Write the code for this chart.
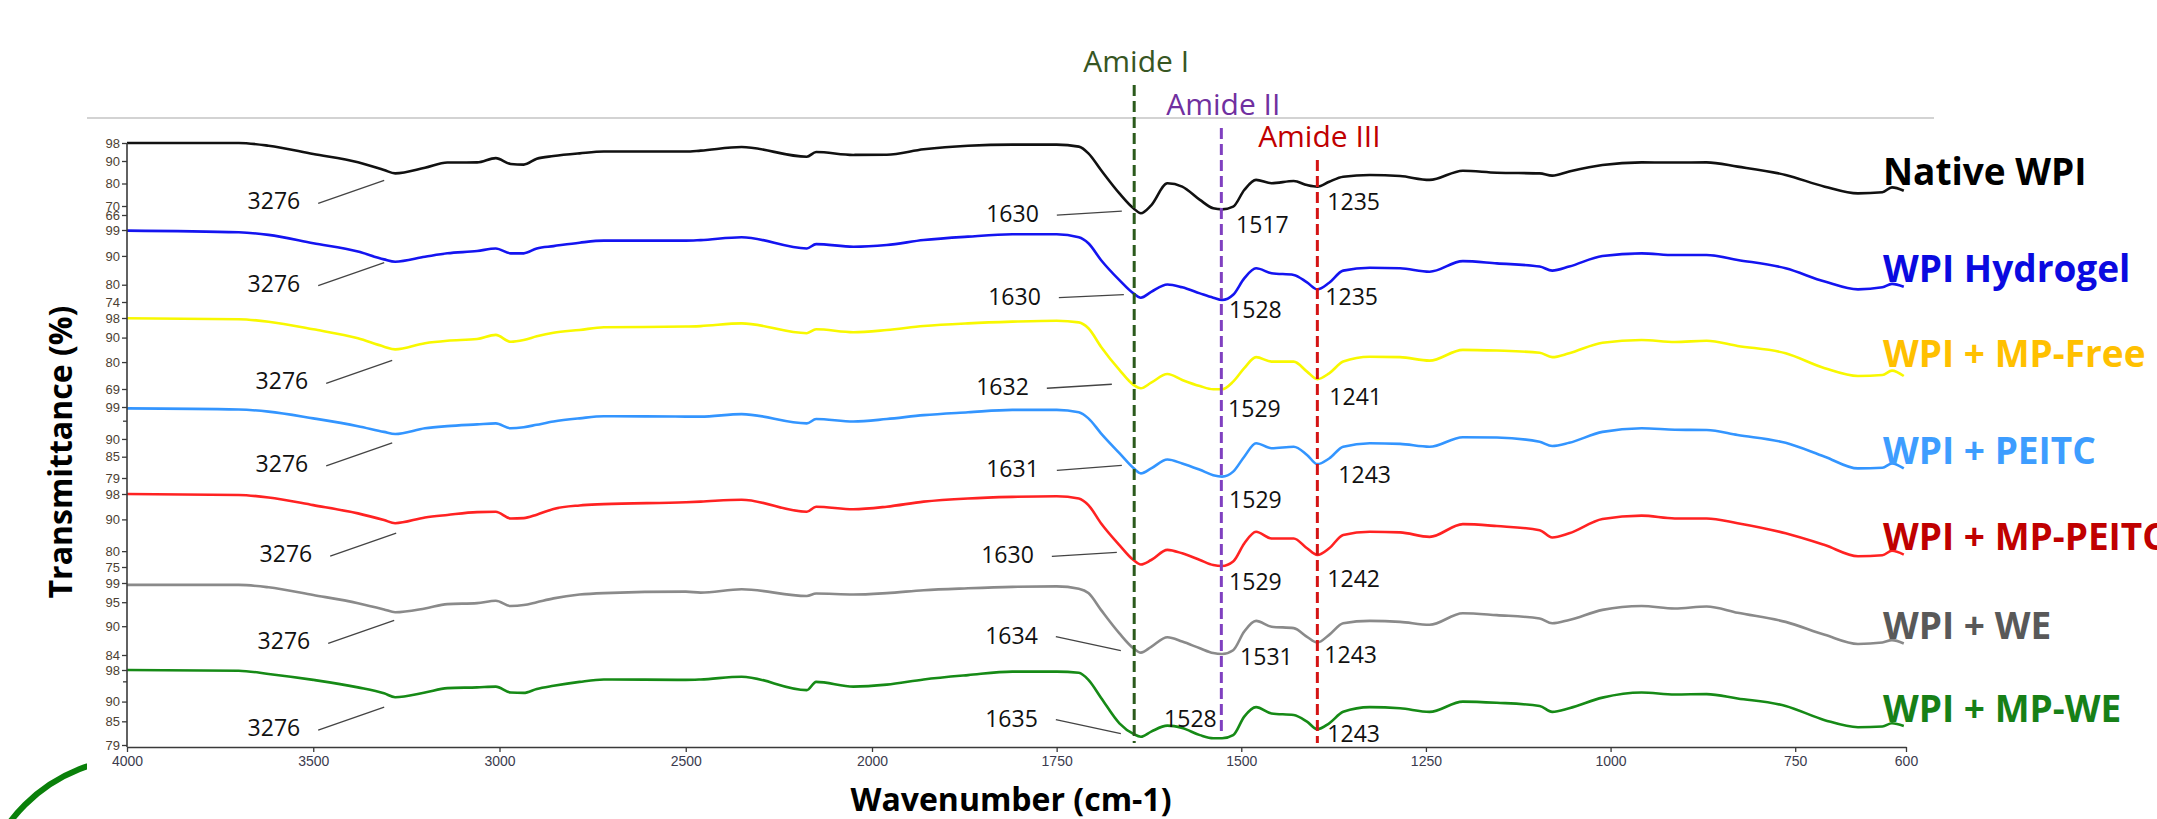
<!DOCTYPE html>
<html>
<head>
<meta charset="utf-8">
<script src="https://cdn.jsdelivr.net/npm/d3@7"></script>
<style>
  html, body { margin: 0; padding: 0; background: #fff; }
  svg { display: block; }
</style>
</head>
<body>
<div id="chart"></div>
<script>
// wavenumber grid (cm-1) shared by all spectra
const wavenumbers = [4000, 3700, 3620, 3500, 3380, 3310, 3280, 3200, 3140, 3060,
  3010, 2970, 2935, 2900, 2855, 2785, 2720, 2500, 2460, 2350,
  2175, 2150, 2050, 1980, 1930, 1870, 1810, 1750, 1720, 1707,
  1690, 1665, 1646, 1636, 1622, 1600, 1580, 1556, 1538, 1526,
  1511, 1496, 1480, 1459, 1429, 1411, 1397, 1381, 1362, 1326,
  1285, 1245, 1200, 1154, 1096, 1079, 1056, 1011, 958, 913,
  870, 828, 763, 710, 665, 632, 619, 603];

// transmittance (%) of each sample
const nativeWPI = [98, 98, 96.8, 93.1, 89.4, 86.0, 84.5, 87.0, 89.3, 89.4,
  91.3, 88.7, 88.4, 91.0, 92.2, 93.4, 94.2, 94.2, 94.6, 96.2,
  91.9, 94.0, 92.7, 92.8, 95.2, 96.8, 97.3, 97.3, 96.4, 93.4,
  86.0, 75.6, 69.0, 66.8, 70.3, 80.1, 78.6, 72.7, 69.0, 68.5,
  69.7, 77.1, 81.6, 80.1, 81.1, 79.3, 78.6, 80.8, 83.0, 83.8,
  83.3, 81.6, 85.7, 84.8, 84.5, 83.5, 85.3, 88.2, 89.4, 89.3,
  89.4, 87.5, 83.8, 78.6, 75.6, 76.1, 78.3, 76.8];
const wpiHydrogel = [98.8, 98.2, 97.3, 94.4, 91.5, 88.8, 88.0, 89.7, 90.9, 91.7,
  92.6, 90.9, 90.9, 92.6, 93.4, 94.6, 95.3, 95.3, 95.5, 96.5,
  92.6, 94.1, 93.2, 93.8, 95.5, 96.7, 97.5, 97.5, 96.5, 94.4,
  88.6, 81.6, 77.0, 75.5, 77.5, 80.1, 79.1, 77.0, 75.5, 74.7,
  76.5, 82.2, 85.7, 84.0, 83.4, 80.8, 78.4, 80.7, 84.9, 85.9,
  85.7, 84.5, 88.2, 87.4, 86.3, 84.9, 86.3, 90.0, 90.9, 90.3,
  90.3, 88.6, 85.7, 81.1, 78.4, 79.1, 80.3, 79.3];
const wpiMpFree = [97.9, 97.5, 96.5, 93.4, 89.7, 86.3, 85.2, 87.7, 88.7, 89.4,
  91.1, 88.3, 89.0, 90.5, 92.0, 93.1, 94.2, 94.5, 94.7, 95.8,
  91.8, 93.4, 92.2, 93.1, 94.7, 95.8, 96.5, 96.9, 96.2, 93.8,
  86.3, 76.8, 70.7, 69.3, 71.6, 75.1, 72.7, 70.2, 68.9, 68.9,
  72.0, 77.5, 82.0, 80.2, 80.2, 76.1, 73.0, 75.4, 80.2, 82.2,
  82.0, 80.6, 85.0, 84.7, 83.8, 82.0, 83.6, 87.9, 89.0, 88.2,
  88.7, 86.6, 83.6, 77.5, 74.3, 74.7, 76.5, 74.3];
const wpiPeitc = [98.6, 98.3, 97.7, 95.8, 93.6, 92.0, 91.4, 93.0, 93.6, 94.1,
  94.4, 93.0, 93.3, 94.0, 94.9, 95.8, 96.4, 96.3, 96.3, 97.0,
  94.4, 95.6, 94.9, 95.6, 96.7, 97.5, 98.2, 98.2, 97.5, 95.8,
  91.6, 86.0, 81.8, 80.3, 81.7, 84.2, 83.1, 81.3, 79.8, 79.4,
  80.8, 85.0, 88.8, 87.4, 87.8, 85.5, 82.9, 84.5, 87.8, 88.8,
  88.6, 87.8, 90.5, 90.4, 89.2, 88.0, 88.9, 92.0, 93.0, 92.6,
  92.5, 91.1, 88.9, 85.0, 81.7, 81.9, 83.1, 81.7];
const wpiMpPeitc = [98.0, 97.7, 96.9, 94.5, 91.9, 89.8, 88.8, 90.6, 91.4, 92.3,
  92.4, 90.3, 90.4, 91.5, 93.3, 94.4, 94.8, 95.4, 95.6, 96.2,
  92.4, 94.0, 93.2, 94.0, 95.6, 96.6, 97.1, 97.3, 96.6, 94.5,
  88.8, 81.9, 77.2, 75.8, 77.2, 80.4, 79.3, 77.2, 75.6, 75.3,
  76.7, 82.4, 86.1, 84.0, 84.0, 80.9, 78.8, 80.9, 85.1, 86.1,
  85.9, 84.5, 88.5, 87.9, 86.6, 84.3, 85.6, 90.1, 91.2, 90.3,
  90.3, 88.8, 85.6, 81.9, 78.4, 78.7, 80.1, 78.9];
const wpiWe = [98.6, 98.6, 98.1, 96.5, 94.8, 93.5, 92.9, 93.7, 94.6, 94.8,
  95.3, 94.2, 94.4, 95.0, 95.8, 96.6, 96.9, 97.2, 97.0, 97.7,
  96.3, 96.8, 96.6, 96.9, 97.5, 97.9, 98.2, 98.3, 97.8, 96.9,
  93.4, 88.5, 85.4, 84.5, 85.7, 87.7, 86.8, 85.4, 84.4, 84.2,
  85.0, 88.9, 91.1, 89.9, 89.6, 87.8, 86.6, 88.2, 90.6, 91.1,
  90.9, 90.3, 92.7, 92.3, 91.6, 90.6, 91.3, 93.4, 94.2, 93.7,
  94.1, 92.8, 90.9, 88.2, 86.3, 86.6, 87.1, 86.4];
const wpiMpWe = [98.0, 97.8, 97.0, 95.5, 93.6, 92.1, 91.1, 92.3, 93.4, 93.6,
  93.8, 92.3, 92.2, 93.2, 94.0, 95.0, 95.6, 95.5, 95.6, 96.3,
  92.9, 95.0, 93.8, 94.3, 95.6, 96.7, 97.6, 97.6, 97.3, 95.5,
  91.0, 84.5, 81.8, 81.1, 82.4, 83.9, 83.3, 81.5, 80.7, 80.7,
  81.5, 86.2, 88.6, 87.0, 86.6, 84.9, 83.0, 84.5, 87.4, 88.6,
  88.3, 87.4, 90.0, 89.7, 88.9, 87.4, 88.3, 91.0, 92.3, 91.8,
  91.9, 90.8, 88.9, 85.3, 83.5, 83.7, 84.5, 83.8];

const seriesNames = ["Native WPI", "WPI Hydrogel", "WPI + MP-Free", "WPI + PEITC",
  "WPI + MP-PEITC", "WPI + WE", "WPI + MP-WE"];
const seriesValues = [nativeWPI, wpiHydrogel, wpiMpFree, wpiPeitc, wpiMpPeitc, wpiWe, wpiMpWe];

// each panel has its own transmittance axis
const yDomains = [[66, 98], [74, 99], [69, 98], [79, 99], [75, 98], [84, 99], [79, 98]];
const yTicks = [[98, 90, 80, 70, 66], [99, 90, 80, 74], [98, 90, 80, 69], [99, 90, 85, 79],
  [98, 90, 80, 75], [99, 95, 90, 84], [98, 90, 85, 79]];
const yMinorTicks = [[], [], [], [95], [], [], [95]];
const xTicks = [4000, 3500, 3000, 2500, 2000, 1750, 1500, 1250, 1000, 750, 600];

const amideNames = ["Amide I", "Amide II", "Amide III"];
const amideWn = [1645, 1527, 1397];

// plotted minima and the numbers written next to them
const peakWn = [3280, 1636, 1526, 1397];
const peakLabels = [
  ["3276", "1630", "1517", "1235"],
  ["3276", "1630", "1528", "1235"],
  ["3276", "1632", "1529", "1241"],
  ["3276", "1631", "1529", "1243"],
  ["3276", "1630", "1529", "1242"],
  ["3276", "1634", "1531", "1243"],
  ["3276", "1635", "1528", "1243"]
];

// ---- layout ----
const width = 2157, height = 819;
const panelTop = [143, 230, 318, 407, 494, 583, 670];
const panelBottom = [215, 302, 389, 478, 567, 655, 745];
const lineColors = ["#111111", "#1414f0", "#f8f800", "#3395ff", "#ff2222", "#8a8a8a", "#168a16"];
const labelColors = ["#000000", "#0a0ae0", "#ffc000", "#3d9dff", "#c00000", "#595959", "#178017"];
const amideColors = ["#375623", "#7030a0", "#c00000"];
const amideLineColors = ["#2b5a1c", "#8040c0", "#d41414"];
const amideTop = [85, 128, 160];
const amideBottom = [743, 735, 743];

// annotation offsets (px) from the plotted minimum
const lead3276 = [[-11, 7], [-11, 1], [-3, 11], [-3, 9], [1, 10], [-1, 8], [-11, 10]];
const leadAmideI = [[-19, -2], [-17, -3], [-29, -4], [-19, -8], [-24, -12], [-20, -2], [-20, -3]];
const riseAmideI = [4, 3, 4, 5, 4, -14, -14];
const textAmideII = [[14, 24], [7, 18], [6, 28], [7, 31], [7, 24], [18, 11], [-58, -11]];
const textAmideIII = [[10, 23], [8, 16], [12, 26], [21, 19], [10, 32], [7, 20], [10, 13]];

var svg = d3
  .select("#chart")
  .append("svg")
  .attr("width", width)
  .attr("height", height)
  .style("font-family", "'Open Sans', 'Noto Sans', sans-serif");

// wavenumber axis is compressed above 2000 cm-1
var x = d3
  .scaleLinear()
  .domain([4000, 2000, 600])
  .range([127, 872, 1906]);

var yScales = yDomains.map(function(dom, i) {
  return d3
    .scaleLinear()
    .domain(dom)
    .range([panelBottom[i], panelTop[i]]);
});

// decorative green ring in the corner
svg
  .append("clipPath")
  .attr("id", "corner")
  .append("rect")
  .attr("x", 0)
  .attr("y", 0)
  .attr("width", 87)
  .attr("height", height);
svg
  .append("circle")
  .attr("clip-path", "url(#corner)")
  .attr("cx", 138)
  .attr("cy", 918)
  .attr("r", 160)
  .attr("fill", "none")
  .attr("stroke", "#0a800a")
  .attr("stroke-width", 6);

// thin rule above the plot
svg
  .append("line")
  .attr("x1", 87)
  .attr("x2", 1934)
  .attr("y1", 118)
  .attr("y2", 118)
  .attr("stroke", "#c4c4c4")
  .attr("stroke-width", 1.5);

// spectra
seriesValues.forEach(function(vals, i) {
  var line = d3
    .line()
    .x(function(d, j) {
      return x(wavenumbers[j]);
    })
    .y(function(d) {
      return yScales[i](d);
    })
    .curve(d3.curveMonotoneX);
  svg
    .append("path")
    .datum(vals)
    .attr("d", line)
    .attr("fill", "none")
    .attr("stroke", lineColors[i])
    .attr("stroke-width", 2.6)
    .attr("stroke-linejoin", "round");
});

// amide band markers
amideWn.forEach(function(wn, k) {
  svg
    .append("line")
    .attr("x1", x(wn))
    .attr("x2", x(wn))
    .attr("y1", amideTop[k])
    .attr("y2", amideBottom[k])
    .attr("stroke", amideLineColors[k])
    .attr("stroke-width", 3)
    .attr("stroke-dasharray", "11,5");
  svg
    .append("text")
    .attr("x", x(wn) + 2)
    .attr("y", amideTop[k] - 13)
    .attr("text-anchor", "middle")
    .attr("font-size", 30)
    .attr("fill", amideColors[k])
    .text(amideNames[k]);
});

// x axis
var xAxis = svg
  .append("g")
  .attr("transform", "translate(0,747)")
  .call(
    d3
      .axisBottom(x)
      .tickValues(xTicks)
      .tickFormat(d3.format("d"))
      .tickSize(5)
      .tickSizeOuter(0)
      .tickPadding(4)
  );
xAxis.select(".domain").attr("stroke", "#3a3a3a").attr("stroke-width", 1.6);
xAxis.selectAll(".tick line").attr("stroke", "#3a3a3a").attr("stroke-width", 1.3);
xAxis
  .selectAll(".tick text")
  .attr("font-family", "'Liberation Sans', Arial, sans-serif")
  .attr("font-size", 14)
  .attr("fill", "#3b3b4e");

// y axes, one per spectrum, on a common spine
svg
  .append("line")
  .attr("x1", 127)
  .attr("x2", 127)
  .attr("y1", panelTop[0])
  .attr("y2", 747)
  .attr("stroke", "#3a3a3a")
  .attr("stroke-width", 1.6);

yScales.forEach(function(y, i) {
  var g = svg
    .append("g")
    .attr("transform", "translate(127,0)")
    .call(
      d3
        .axisLeft(y)
        .tickValues(yTicks[i])
        .tickSize(5)
        .tickSizeOuter(0)
        .tickPadding(2)
    );
  g.select(".domain").remove();
  g.selectAll(".tick line").attr("stroke", "#3a3a3a").attr("stroke-width", 1.3);
  g
    .selectAll(".tick text")
    .attr("font-family", "'Liberation Sans Narrow', 'Liberation Sans', Arial, sans-serif")
    .attr("font-size", 13)
    .attr("fill", "#4d3f32");
  g
    .selectAll(".minor")
    .data(yMinorTicks[i])
    .enter()
    .append("line")
    .attr("x1", -4)
    .attr("x2", 0)
    .attr("y1", function(d) {
      return y(d);
    })
    .attr("y2", function(d) {
      return y(d);
    })
    .attr("stroke", "#3a3a3a")
    .attr("stroke-width", 1.3);
});

// peak annotations
seriesValues.forEach(function(vals, i) {
  var y = yScales[i];
  var pts = peakWn.map(function(wn) {
    return [x(wn), y(vals[wavenumbers.indexOf(wn)])];
  });
  var ann = svg.append("g").attr("font-size", 23).attr("fill", "#111");

  // 3276 with leader
  var e0 = [pts[0][0] + lead3276[i][0], pts[0][1] + lead3276[i][1]];
  var s0 = [e0[0] - 66, e0[1] + 23];
  ann
    .append("line")
    .attr("x1", s0[0])
    .attr("y1", s0[1])
    .attr("x2", e0[0])
    .attr("y2", e0[1])
    .attr("stroke", "#444")
    .attr("stroke-width", 1.3);
  ann
    .append("text")
    .attr("x", s0[0] - 18)
    .attr("y", s0[1] + 6)
    .attr("text-anchor", "end")
    .text(peakLabels[i][0]);

  // amide I with leader
  var e1 = [pts[1][0] + leadAmideI[i][0], pts[1][1] + leadAmideI[i][1]];
  var s1 = [e1[0] - 65, e1[1] + riseAmideI[i]];
  ann
    .append("line")
    .attr("x1", s1[0])
    .attr("y1", s1[1])
    .attr("x2", e1[0])
    .attr("y2", e1[1])
    .attr("stroke", "#444")
    .attr("stroke-width", 1.3);
  ann
    .append("text")
    .attr("x", s1[0] - 18)
    .attr("y", s1[1] + 7)
    .attr("text-anchor", "end")
    .text(peakLabels[i][1]);

  // amide II and III
  ann
    .append("text")
    .attr("x", pts[2][0] + textAmideII[i][0])
    .attr("y", pts[2][1] + textAmideII[i][1])
    .text(peakLabels[i][2]);
  ann
    .append("text")
    .attr("x", pts[3][0] + textAmideIII[i][0])
    .attr("y", pts[3][1] + textAmideIII[i][1])
    .text(peakLabels[i][3]);
});

// sample names
var labelBase = [185, 282, 367, 464, 550, 639, 722];
seriesNames.forEach(function(name, i) {
  svg
    .append("text")
    .attr("x", 1883)
    .attr("y", labelBase[i])
    .attr("font-size", 37)
    .attr("font-weight", "bold")
    .attr("fill", labelColors[i])
    .text(name);
});

// axis titles
svg
  .append("text")
  .attr("transform", "translate(72,452) rotate(-90)")
  .attr("text-anchor", "middle")
  .attr("font-size", 32)
  .attr("font-weight", "bold")
  .attr("fill", "#000")
  .text("Transmittance (%)");
svg
  .append("text")
  .attr("x", 1011)
  .attr("y", 811)
  .attr("text-anchor", "middle")
  .attr("font-size", 32)
  .attr("font-weight", "bold")
  .attr("fill", "#000")
  .text("Wavenumber (cm-1)");
</script>
</body>
</html>
